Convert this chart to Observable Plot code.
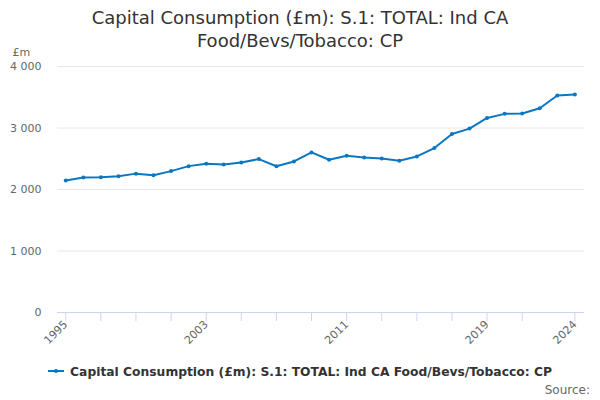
<!DOCTYPE html>
<html>
<head>
<meta charset="utf-8">
<script src="https://cdn.jsdelivr.net/npm/d3@7"></script>
<script src="https://cdn.jsdelivr.net/npm/@observablehq/plot@0.6"></script>
<style>
  body { margin: 0; background: #fff; font-family: "DejaVu Sans", sans-serif; }
  #wrap { position: relative; width: 600px; height: 400px; overflow: hidden; }
  #title { position: absolute; top: 6px; left: 0; width: 600px; text-align: center; font-size: 18px; line-height: 23px; color: #333; }
  #chart { position: absolute; top: 0; left: 0; }
  #legend { position: absolute; top: 365px; left: 0; width: 600px; text-align: center; font-size: 12.3px; font-weight: bold; color: #333; white-space: nowrap; }
  #legend .sym { display: inline-block; position: relative; width: 16px; height: 12px; vertical-align: -1px; margin-right: 6px; }
  #legend .sym::before { content: ""; position: absolute; left: 0; top: 5px; width: 16px; height: 2px; background: #0a77c2; }
  #legend .sym::after { content: ""; position: absolute; left: 6px; top: 4px; width: 4px; height: 4px; border-radius: 2px; background: #0a77c2; }
  #source { position: absolute; top: 383px; right: 10px; font-size: 12px; color: #666; }
</style>
</head>
<body>
<div id="wrap">
  <div id="title">Capital Consumption (£m): S.1: TOTAL: Ind CA<br>Food/Bevs/Tobacco: CP</div>
  <div id="chart"></div>
  <div id="legend"><span class="sym"></span>Capital Consumption (£m): S.1: TOTAL: Ind CA Food/Bevs/Tobacco: CP</div>
  <div id="source">Source:</div>
</div>
<script>
const years = [1995,1996,1997,1998,1999,2000,2001,2002,2003,2004,2005,2006,2007,2008,2009,2010,2011,2012,2013,2014,2015,2016,2017,2018,2019,2020,2021,2022,2023,2024];
const values = [2148,2195,2198,2217,2258,2233,2299,2380,2418,2407,2440,2495,2378,2456,2603,2484,2549,2522,2505,2467,2538,2674,2903,2990,3164,3230,3235,3322,3529,3546];
const xTicks = [1995,1997,1999,2001,2003,2005,2007,2009,2011,2013,2015,2017,2019,2021,2024];
const xLabels = [1995,2003,2011,2019,2024];
const yTicks = [0,1000,2000,3000,4000];
const yUnit = "£m";

const data = years.map((y, i) => ({year: y, value: values[i]}));
const fmt = d => d3.format(",")(d).replace(/,/g, " ");
const color = "#0a77c2";

const chart = Plot.plot({
  width: 600,
  height: 400,
  marginTop: 66,
  marginBottom: 88,
  marginLeft: 57,
  marginRight: 16,
  style: {fontFamily: "DejaVu Sans, sans-serif", fontSize: "11px", background: "transparent"},
  x: {domain: [1994.53, 2024.55], axis: null, label: null},
  y: {domain: [0, 4000], axis: null, label: null},
  marks: [
    Plot.gridY(yTicks.filter(d => d > 0), {stroke: "#e6e6e6", strokeOpacity: 1}),
    Plot.ruleY([0], {stroke: "#ccd6eb"}),
    Plot.axisX(xTicks, {tickSize: 9, tickFormat: () => "", stroke: "#ccd6eb", strokeOpacity: 1, label: null}),
    Plot.axisX(xLabels, {tickSize: 0, tickPadding: 10, tickRotate: -45, tickFormat: d => String(d), fill: "#666", fontSize: 11, label: null}),
    Plot.axisY(yTicks, {tickSize: 0, tickPadding: 16, tickFormat: fmt, fill: "#666", fontSize: 11, label: null}),
    Plot.text([yUnit], {frameAnchor: "top-left", dx: -45, dy: -18, text: d => d, fill: "#666", fontSize: 11, textAnchor: "start"}),
    Plot.line(data, {x: "year", y: "value", stroke: color, strokeWidth: 2}),
    Plot.dot(data, {x: "year", y: "value", fill: color, r: 2})
  ]
});
document.getElementById("chart").appendChild(chart);
</script>
</body>
</html>
